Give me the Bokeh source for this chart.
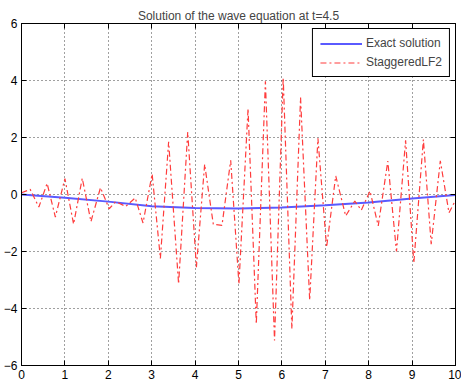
from bokeh.plotting import figure
from bokeh.models import Range1d, FixedTicker, LinearAxis, Legend, LegendItem
from bokeh.embed import file_html
from bokeh.resources import INLINE

title_text = "Solution of the wave equation at t=4.5"
x_ticks = [0, 1, 2, 3, 4, 5, 6, 7, 8, 9, 10]
y_ticks = [-6, -4, -2, 0, 2, 4, 6]

exact_x = [0, 1, 2, 3, 4, 5, 6, 7, 8, 9, 10]
exact_y = [0.0, -0.11, -0.25, -0.41, -0.47, -0.49, -0.46, -0.38, -0.28, -0.14, -0.02]

lf2_x = [0.0, 0.2, 0.4, 0.59, 0.78, 1.0, 1.2, 1.4, 1.6, 1.82, 2.02, 2.17, 2.4, 2.62,
         2.8, 3.01, 3.2, 3.39, 3.62, 3.83, 4.03, 4.22, 4.42, 4.62, 4.82, 5.01, 5.22,
         5.41, 5.62, 5.83, 6.03, 6.23, 6.43, 6.64, 6.83, 7.03, 7.24, 7.47, 7.68, 7.83,
         8.03, 8.22, 8.44, 8.64, 8.85, 9.04, 9.26, 9.44, 9.65, 9.85, 10.0]
lf2_y = [0.06, 0.18, -0.44, 0.39, -0.79, 0.56, -1.04, 0.57, -0.95, 0.24, -0.5, -0.25,
         -0.42, -0.12, -1.0, 0.72, -2.24, 1.85, -3.14, 2.19, -2.55, 1.06, -1.05, -1.08,
         1.2, -3.14, 3.01, -4.54, 3.97, -5.12, 4.1, -4.72, 3.4, -3.71, 1.97, -1.85,
         0.65, -0.75, -0.23, -0.55, 0.12, -1.1, 1.17, -2.0, 1.9, -2.4, 1.93, -1.74,
         1.18, -0.64, -0.2]

FONT = "Liberation Sans"

p = figure(width=461, height=387, x_range=Range1d(0, 10), y_range=Range1d(-6, 6),
           output_backend="svg", toolbar_location=None, title=title_text,
           min_border_left=21, min_border_right=6, min_border_top=23, min_border_bottom=22)

p.title.text_font = FONT
p.title.text_font_size = "12px"
p.title.text_font_style = "normal"
p.title.align = "center"
p.title.standoff = 2
p.title.offset = 0

p.background_fill_color = "white"
p.border_fill_color = "white"
p.outline_line_color = "black"
p.outline_line_alpha = 1
p.outline_line_width = 1

for ax in p.xaxis:
    ax.ticker = FixedTicker(ticks=x_ticks)
for ax in p.yaxis:
    ax.ticker = FixedTicker(ticks=y_ticks)

for ax in list(p.xaxis) + list(p.yaxis):
    ax.major_tick_in = 5
    ax.major_tick_out = 0
    ax.minor_tick_line_color = None
    ax.axis_line_color = "black"
    ax.major_tick_line_color = "black"
    ax.major_label_text_font = FONT
    ax.major_label_text_font_size = "12px"
    ax.major_label_text_color = "black"
    ax.major_label_standoff = 4

# box-style tick marks on the top and right edges, without labels
for loc, ticks in (("right", y_ticks), ("above", x_ticks)):
    ax = LinearAxis(ticker=FixedTicker(ticks=ticks), major_tick_in=5, major_tick_out=0,
                    minor_tick_line_color=None, axis_line_color="black",
                    major_label_overrides={t: "" for t in ticks},
                    major_label_standoff=0)
    p.add_layout(ax, loc)

p.grid.grid_line_color = "black"
p.grid.grid_line_alpha = 0.75
p.grid.grid_line_dash = "1 3"
p.grid.grid_line_width = 1
p.xgrid.ticker = FixedTicker(ticks=x_ticks)
p.ygrid.ticker = FixedTicker(ticks=y_ticks)

r1 = p.line(exact_x, exact_y, line_color="#5a5aff", line_width=2)
r2 = p.line(lf2_x, lf2_y, line_color="#ff3c3c", line_width=1.2, line_dash="6 3 2 3")

legend = Legend(items=[LegendItem(label="Exact solution", renderers=[r1]),
                       LegendItem(label="StaggeredLF2", renderers=[r2])],
                location="top_right")
legend.border_line_color = "black"
legend.border_line_width = 1
legend.border_line_alpha = 1
legend.background_fill_alpha = 1
legend.label_text_font = FONT
legend.label_text_font_size = "12px"
legend.glyph_width = 42
legend.glyph_height = 13
legend.label_height = 13
legend.label_standoff = 4
legend.spacing = 5
legend.padding = 7
legend.margin = 5
p.add_layout(legend)

open("out.html", "w").write(file_html(p, INLINE))
